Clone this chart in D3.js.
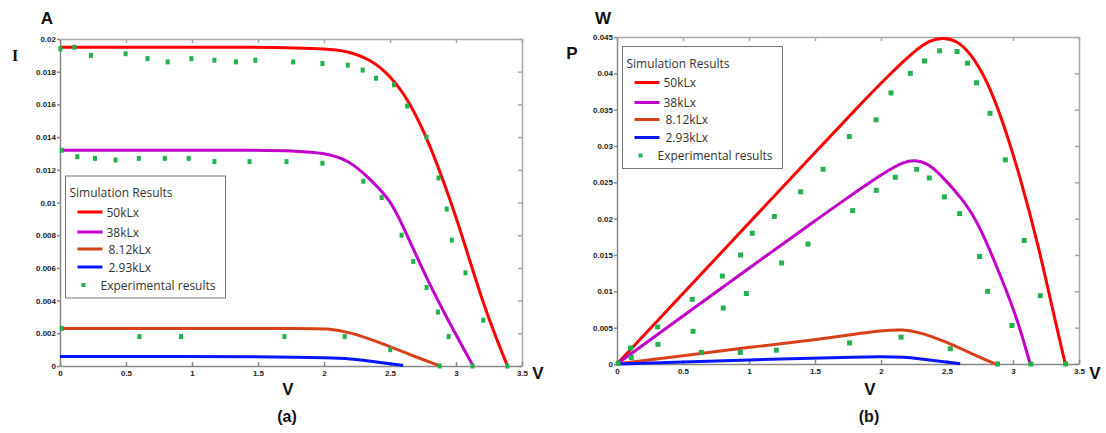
<!DOCTYPE html>
<html>
<head>
<meta charset="utf-8">
<script src="https://cdn.jsdelivr.net/npm/d3@7"></script>
<style>
  body { margin: 0; background: #fff; }
  svg text { font-family: "Liberation Sans", Arial, sans-serif; }
  .tick text { font-size: 8px; font-weight: bold; fill: #222; }
  .legend text { font-family: "Open Sans", sans-serif; font-size: 12px; fill: #333; }
  .big { font-weight: bold; fill: #111; }
</style>
</head>
<body>
<div id="chart"></div>
<script>
// ---- data ----
const seriesNames = ["50kLx", "38kLx", "8.12kLx", "2.93kLx"];
const expName = "Experimental results";
const voltageTicks = [0, 0.5, 1, 1.5, 2, 2.5, 3, 3.5];
const currentTicks = [0, 0.002, 0.004, 0.006, 0.008, 0.01, 0.012, 0.014, 0.016, 0.018, 0.02];
const powerTicks = [0, 0.005, 0.01, 0.015, 0.02, 0.025, 0.03, 0.035, 0.04, 0.045];

// I-V simulation curves [V, I]
const ivSim50 = [[0,0.0195],[0.5,0.0195],[1.0,0.0195],[1.5,0.0195],[1.8,0.01945],[2.0,0.0194],[2.165,0.0193],[2.364,0.01872],[2.515,0.01763],[2.64,0.01627],[2.79,0.01382],[2.958,0.01015],[3.08,0.0071],[3.197,0.00404],[3.3,0.0018],[3.39,0]];
const ivSim38 = [[0,0.0132],[0.5,0.0132],[1.0,0.0132],[1.5,0.0132],[1.8,0.01315],[1.988,0.01305],[2.19,0.0126],[2.34,0.0115],[2.507,0.01015],[2.618,0.0082],[2.795,0.00506],[2.946,0.0027],[3.13,0]];
const ivSim8 = [[0,0.0023],[1.0,0.0023],[1.9,0.0023],[2.013,0.00229],[2.19,0.0021],[2.44,0.00139],[2.69,0.00057],[2.88,0]];
const ivSim2 = [[0,0.00058],[1.0,0.00058],[1.5,0.00057],[1.8,0.00054],[2.0,0.0005],[2.19,0.00046],[2.44,0.0002],[2.6,0.00003]];

// I-V experimental points [V, I]
const ivExp50 = [[0.003,0.0194],[0.109,0.0195],[0.235,0.019],[0.497,0.0191],[0.663,0.0188],[0.816,0.0186],[0.995,0.0188],[1.17,0.0187],[1.333,0.0186],[1.48,0.0187],[1.766,0.0186],[1.988,0.0185],[2.18,0.0184],[2.293,0.0181],[2.394,0.0176],[2.53,0.0172],[2.63,0.0159],[2.777,0.014],[2.867,0.0115],[2.93,0.0096],[2.968,0.0077],[3.072,0.0057],[3.207,0.0028],[3.389,0]];
const ivExp38 = [[0.013,0.0132],[0.131,0.0128],[0.265,0.0127],[0.421,0.0126],[0.597,0.0127],[0.794,0.0127],[0.975,0.0127],[1.17,0.0125],[1.436,0.0125],[1.716,0.0125],[1.988,0.0124],[2.298,0.0113],[2.437,0.0103],[2.588,0.008],[2.676,0.0064],[2.777,0.0048],[2.863,0.0033],[2.944,0.0018],[3.125,0]];
const ivExp8 = [[0.013,0.0023],[0.602,0.0018],[0.917,0.0018],[1.7,0.0018],[2.157,0.0018],[2.502,0.001],[2.877,0]];

// P-V simulation curves [V, P]
const pvSim50 = [[0,0],[0.5,0.0097],[1.0,0.0194],[1.5,0.0291],[1.8,0.0349],[2.045,0.0395],[2.247,0.043],[2.373,0.0446],[2.474,0.0449],[2.576,0.0445],[2.677,0.0428],[2.803,0.0391],[2.929,0.0331],[3.055,0.0257],[3.194,0.0162],[3.3,0.0075],[3.396,0]];
const pvSim38 = [[0,0],[0.5,0.0066],[1.0,0.0132],[1.5,0.0197],[1.692,0.0222],[2.045,0.0266],[2.17,0.0278],[2.26,0.0281],[2.35,0.0276],[2.424,0.0266],[2.626,0.0226],[2.752,0.0189],[2.904,0.0122],[3.03,0.0064],[3.13,0]];
const pvSim8 = [[0,0],[0.5,0.00115],[1.0,0.0023],[1.54,0.0034],[1.793,0.0041],[2.0,0.0046],[2.172,0.00478],[2.298,0.0043],[2.424,0.0035],[2.55,0.0026],[2.677,0.0015],[2.866,0]];
const pvSim2 = [[0,0],[0.5,0.00028],[1.0,0.00056],[1.5,0.00082],[1.8,0.00096],[2.0,0.001],[2.19,0.00095],[2.3,0.00068],[2.44,0.0004],[2.6,0.00005]];

// P-V experimental points [V, P]
const pvExp50 = [[0.008,0.0001],[0.103,0.0022],[0.308,0.0051],[0.57,0.0089],[0.798,0.0121],[0.936,0.015],[1.025,0.018],[1.192,0.0203],[1.391,0.0237],[1.561,0.0268],[1.76,0.0313],[1.962,0.0336],[2.076,0.0373],[2.222,0.04],[2.33,0.0417],[2.444,0.0431],[2.576,0.043],[2.656,0.0414],[2.724,0.0387],[2.826,0.0345],[2.942,0.0281],[3.085,0.017],[3.207,0.0094],[3.399,0]];
const pvExp38 = [[0.108,0.0009],[0.31,0.0027],[0.576,0.0045],[0.805,0.0077],[0.98,0.0097],[1.247,0.0139],[1.447,0.0165],[1.785,0.0211],[1.964,0.0239],[2.108,0.0257],[2.27,0.0268],[2.366,0.0256],[2.48,0.023],[2.596,0.0207],[2.747,0.0148],[2.808,0.01],[2.992,0.0053],[3.136,0]];
const pvExp8 = [[0.639,0.0016],[0.934,0.0016],[1.207,0.0019],[1.762,0.0029],[2.152,0.0037],[2.525,0.0021],[2.883,0]];

const colors = ["#ff0000", "#c000c8", "#d8401a", "#0a14ff"];
const green = "#22b14c";

const svg = d3.select('#chart').append('svg')
    .attr('width', 1106)
    .attr('height', 433);

function fmt(d) {
    return d === 0 ? "0" : String(+d.toFixed(3));
}

function makePanel(opt) {
    const x = d3.scaleLinear().domain([0, 3.5]).range([opt.left, opt.right]);
    const y = d3.scaleLinear().domain([0, opt.yMax]).range([opt.bottom, opt.top]);

    // box axes, matlab style
    svg.append('g')
        .attr('transform', 'translate(0,' + opt.top + ')')
        .call(d3.axisTop(x).tickValues(voltageTicks).tickSize(-4).tickSizeOuter(0).tickFormat(''))
        .call(g => g.selectAll('path,line').attr('stroke', '#a8a8a8').attr('stroke-width', 1.5));
    svg.append('g')
        .attr('transform', 'translate(' + opt.right + ',0)')
        .call(d3.axisRight(y).tickValues(opt.yTicks).tickSize(-4).tickSizeOuter(0).tickFormat(''))
        .call(g => g.selectAll('path,line').attr('stroke', '#a8a8a8').attr('stroke-width', 1.5));
    svg.append('g')
        .attr('transform', 'translate(0,' + opt.bottom + ')')
        .call(d3.axisBottom(x).tickValues(voltageTicks).tickSize(-4).tickSizeOuter(0).tickPadding(4).tickFormat(fmt))
        .call(g => g.selectAll('path,line').attr('stroke', '#888').attr('stroke-width', 1.5))
        .call(g => g.selectAll('text').attr('y', 4).attr('dy', '0.75em'));
    svg.append('g')
        .attr('transform', 'translate(' + opt.left + ',0)')
        .call(d3.axisLeft(y).tickValues(opt.yTicks).tickSize(3).tickSizeOuter(0).tickPadding(1).tickFormat(fmt))
        .call(g => g.selectAll('path,line').attr('stroke', '#888').attr('stroke-width', 1.5));
    svg.selectAll('.tick text').attr('font-family', null);

    // smooth simulation curves
    const line = d3.line()
        .x(d => x(d[0]))
        .y(d => y(d[1]))
        .curve(d3.curveBasis);

    svg.append('g').selectAll('path')
        .data(opt.sims)
        .enter().append('path')
        .attr('d', line)
        .attr('fill', 'none')
        .attr('stroke', (d, i) => colors[i])
        .attr('stroke-width', 3);

    const pts = [].concat(...opt.exps);
    svg.append('g').selectAll('rect')
        .data(pts)
        .enter().append('rect')
        .attr('x', d => x(d[0]) - opt.mw / 2)
        .attr('y', d => y(d[1]) - opt.mh / 2)
        .attr('width', opt.mw)
        .attr('height', opt.mh)
        .attr('fill', green);

    // legend
    const lg = svg.append('g').attr('class', 'legend')
        .attr('transform', 'translate(' + opt.lgX + ',' + opt.lgY + ')');
    lg.append('rect')
        .attr('width', 160).attr('height', 122)
        .attr('fill', '#fff').attr('stroke', '#777').attr('stroke-width', 1);
    lg.append('text').attr('x', 4).attr('y', 21).text('Simulation Results');
    const rowY = [36, 56, 73, 91];
    seriesNames.forEach((name, i) => {
        lg.append('line')
            .attr('x1', 12).attr('x2', 37)
            .attr('y1', rowY[i]).attr('y2', rowY[i])
            .attr('stroke', colors[i]).attr('stroke-width', 3);
        lg.append('text').attr('x', 41 + (i > 1 ? 2 : 0)).attr('y', rowY[i] + 4.5).text(name);
    });
    lg.append('rect').attr('x', 16).attr('y', 107).attr('width', 4).attr('height', 4).attr('fill', green);
    lg.append('text').attr('x', 35).attr('y', 113.5).text(expName);

    // unit / axis letters
    svg.append('text').attr('class', 'big').attr('x', opt.unitX).attr('y', 24)
        .attr('text-anchor', 'middle').style('font-size', '17px').text(opt.unit);
    svg.append('text').attr('class', 'big').attr('x', opt.qX).attr('y', opt.qY)
        .attr('text-anchor', 'middle')
        .style('font-family', opt.qSerif ? '"Liberation Serif", serif' : null)
        .style('font-size', opt.qSerif ? '16px' : '17px').text(opt.q);
    svg.append('text').attr('class', 'big').attr('x', opt.right + 16).attr('y', 379)
        .attr('text-anchor', 'middle').style('font-size', '17px').text('V');
    svg.append('text').attr('class', 'big').attr('x', opt.vX).attr('y', 395)
        .attr('text-anchor', 'middle').style('font-size', '17px').text('V');
    svg.append('text').attr('class', 'big').attr('x', opt.vX - 1).attr('y', 422)
        .attr('text-anchor', 'middle').style('font-size', '16px').text(opt.tag);
}

makePanel({
    left: 60, right: 522, top: 39, bottom: 366,
    yMax: 0.02, yTicks: currentTicks,
    sims: [ivSim50, ivSim38, ivSim8, ivSim2],
    exps: [ivExp50, ivExp38, ivExp8],
    mw: 4, mh: 5,
    lgX: 65.5, lgY: 176,
    unit: 'A', unitX: 47, q: 'I', qX: 15, qY: 61, qSerif: true,
    vX: 288, tag: '(a)'
});

makePanel({
    left: 617, right: 1079, top: 37, bottom: 364,
    yMax: 0.045, yTicks: powerTicks,
    sims: [pvSim50, pvSim38, pvSim8, pvSim2],
    exps: [pvExp50, pvExp38, pvExp8],
    mw: 5, mh: 5,
    lgX: 622.5, lgY: 46.5,
    unit: 'W', unitX: 603, q: 'P', qX: 572, qY: 59, qSerif: false,
    vX: 870, tag: '(b)'
});
</script>
</body>
</html>
